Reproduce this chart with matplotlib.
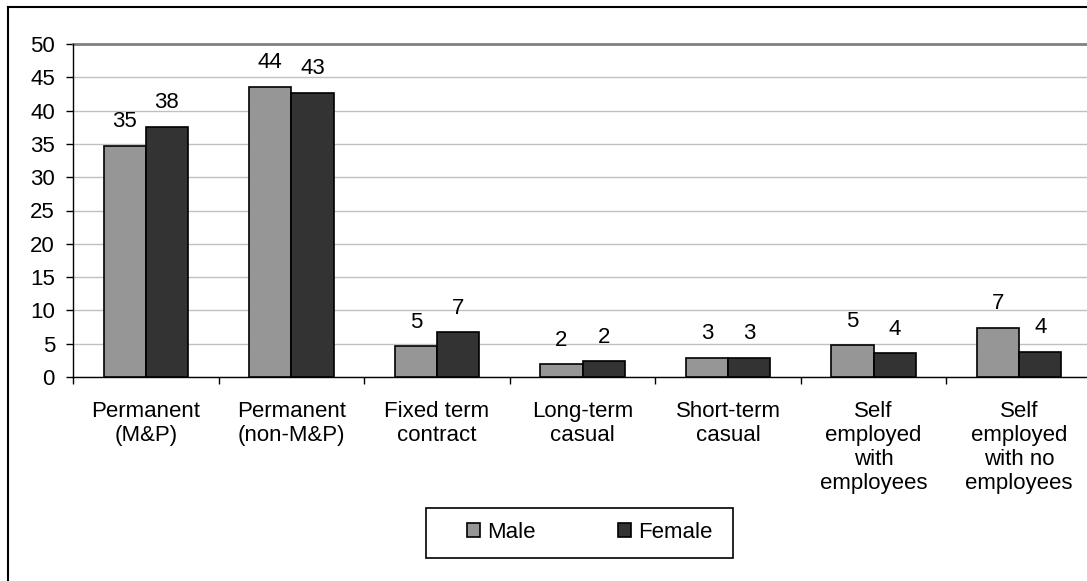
import matplotlib
matplotlib.use("Agg")
import matplotlib.pyplot as plt
from matplotlib.lines import Line2D
from matplotlib.patches import Rectangle
import numpy as np

plt.rcParams['font.family'] = ['Liberation Sans', 'DejaVu Sans']

# Data
categories = ["Permanent\n(M&P)", "Permanent\n(non-M&P)", "Fixed term\ncontract",
              "Long-term\ncasual", "Short-term\ncasual", "Self\nemployed\nwith\nemployees",
              "Self\nemployed\nwith no\nemployees"]
male = [34.7, 43.6, 4.6, 1.9, 2.9, 4.8, 7.4]
female = [37.6, 42.7, 6.7, 2.4, 2.9, 3.6, 3.8]
yticks = [0, 5, 10, 15, 20, 25, 30, 35, 40, 45, 50]

W, H = 1087, 581
fs = 16
fig = plt.figure(figsize=(W / 100, H / 100), dpi=100)
ax = fig.add_axes([73 / W, 1 - 377 / H, (1092 - 73) / W, (377 - 44) / H])

x = np.arange(len(categories))
bw = 0.29
b_m = ax.bar(x - bw / 2, male, bw, color='#969696', edgecolor='black', lw=1.2, label='Male', zorder=3)
b_f = ax.bar(x + bw / 2, female, bw, color='#333333', edgecolor='black', lw=1.2, label='Female', zorder=3)

# value labels above bars
for bars, vals in [(b_m, male), (b_f, female)]:
    for rect, v in zip(bars, vals):
        ax.annotate(f"{v:.0f}", (rect.get_x() + rect.get_width() / 2, v),
                    xytext=(0, 24), textcoords='offset pixels',
                    ha='center', va='center', fontsize=fs)

ax.set_xlim(-0.5, len(categories) - 0.5)
ax.set_ylim(0, 50)
ax.set_yticks(yticks)
ax.tick_params(axis='y', labelsize=fs, length=5, width=1, pad=8)

ax.set_xticks(x)
ax.set_xticklabels(categories, fontsize=fs)
ax.tick_params(axis='x', length=0, pad=17)
ax.set_xticks(np.arange(-0.5, len(categories)), minor=True)
ax.tick_params(axis='x', which='minor', length=5, width=1, direction='out')

ax.set_axisbelow(True)
ax.yaxis.grid(True, color='#c0c0c0', lw=1)
ax.axhline(50, color='#808080', lw=2, clip_on=False, zorder=2)
for s in ['top', 'right']:
    ax.spines[s].set_visible(False)
for s in ['left', 'bottom']:
    ax.spines[s].set_color('black')
    ax.spines[s].set_linewidth(1)

# outer chart frame (left and top edges visible)
fig.add_artist(Line2D([8 / W, 8 / W], [0, 1 - 7 / H], transform=fig.transFigure, color='black', lw=1.5))
fig.add_artist(Line2D([8 / W, 1], [1 - 7 / H, 1 - 7 / H], transform=fig.transFigure, color='black', lw=1.5))

# legend box
fig.add_artist(Rectangle((425.5 / W, 1 - 558 / H), (733 - 425.5) / W, 50 / H,
                         transform=fig.transFigure, fill=False, edgecolor='black', lw=1.2))
fig.legend([b_m, b_f], ['Male', 'Female'], loc='center left',
           bbox_to_anchor=(467 / W, 1 - 532 / H), frameon=False, ncol=2,
           fontsize=fs, handlelength=0.6, handleheight=0.6, handletextpad=0.3,
           columnspacing=3.7, borderpad=0, borderaxespad=0)

fig.savefig("out.png", dpi=100)
